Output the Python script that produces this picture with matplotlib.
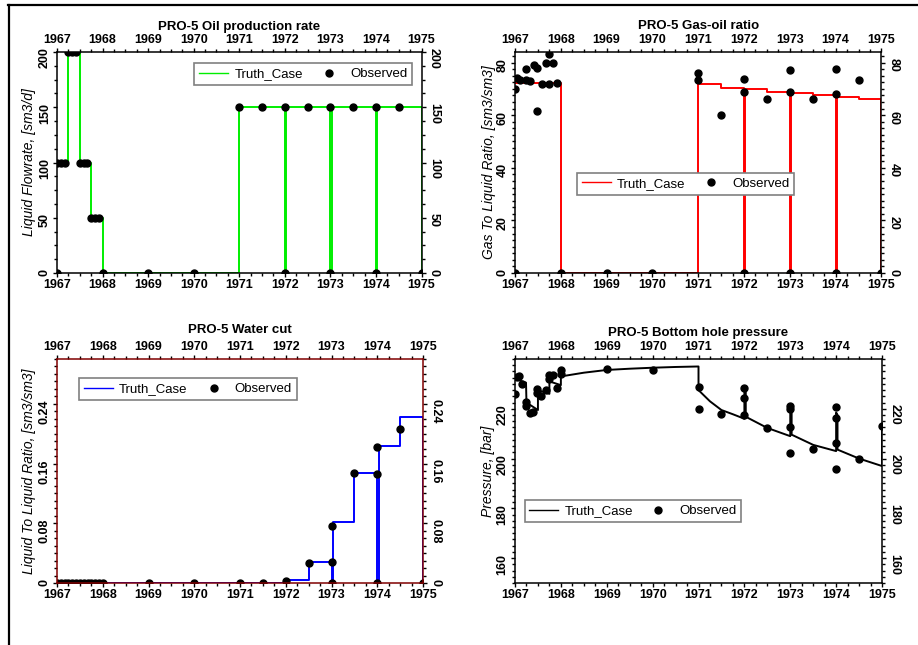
import matplotlib
matplotlib.use("Agg")
import matplotlib.pyplot as plt
from matplotlib.lines import Line2D
from matplotlib.ticker import MultipleLocator

plt.rcParams["font.family"] = ["Liberation Sans", "DejaVu Sans"]

years = [1967, 1968, 1969, 1970, 1971, 1972, 1973, 1974, 1975]

# PRO-5 oil production rate, sm3/d
oil_truth_t = [1967.0, 1967.25, 1967.5, 1967.75, 1968.0, 1971.0, 1972.0, 1972.03,
               1973.0, 1973.03, 1974.0, 1974.03, 1975.0]
oil_truth_v = [100, 200, 100, 50, 0, 150, 0, 150, 0, 150, 0, 150, 0]
oil_obs_t = [1967.0, 1967.0, 1967.083, 1967.167, 1967.25, 1967.333, 1967.417, 1967.5,
             1967.583, 1967.667, 1967.75, 1967.833, 1967.917, 1968.0, 1969.0, 1970.0,
             1971.0, 1971.5, 1972.0, 1972.0, 1972.5, 1973.0, 1973.0, 1973.5, 1974.0,
             1974.0, 1974.5, 1975.0]
oil_obs_v = [0, 100, 100, 100, 200, 200, 200, 100, 100, 100, 50, 50, 50, 0, 0, 0,
             150, 150, 150, 0, 150, 150, 0, 150, 150, 0, 150, 0]

# PRO-5 gas-oil ratio, sm3/sm3
gor_truth_t = [1967.0, 1968.0, 1971.0, 1971.5, 1972.0, 1972.03, 1972.5, 1973.0, 1973.03,
               1973.5, 1974.0, 1974.03, 1974.5, 1975.0]
gor_truth_v = [72.4, 0, 71.7, 70.4, 0, 69.8, 68.9, 0, 68.3, 67.5, 0, 66.9, 66.3, 0]
gor_obs_t = [1967.0, 1967.0, 1967.05, 1967.12, 1967.24, 1967.25, 1967.32, 1967.41,
             1967.48, 1967.48, 1967.58, 1967.67, 1967.75, 1967.75, 1967.84, 1967.92,
             1968.0, 1969.0, 1970.0, 1971.0, 1971.0, 1971.5, 1972.0, 1972.0, 1972.0,
             1972.5, 1973.0, 1973.0, 1973.0, 1973.5, 1974.0, 1974.0, 1974.0, 1974.5, 1975.0]
gor_obs_v = [0, 70.1, 74.0, 73.3, 77.5, 73.4, 73.0, 78.9, 78.0, 61.5, 72.0, 80.0,
             83.1, 72.0, 79.9, 72.3, 0, 0, 0, 76.0, 73.3, 60.0, 73.8, 68.9, 0,
             66.0, 77.2, 69.0, 0, 66.1, 77.5, 68.2, 0, 73.2, 0]

# PRO-5 water cut, sm3/sm3
wc_truth_t = [1967.0, 1972.0, 1972.5, 1973.0, 1973.03, 1973.5, 1974.0, 1974.03, 1974.5, 1975.0]
wc_truth_v = [0.0, 0.0036, 0.028, 0.0, 0.082, 0.147, 0.0, 0.184, 0.222, 0.0]
wc_obs_t = [1967.0, 1967.083, 1967.167, 1967.25, 1967.333, 1967.417, 1967.5, 1967.583,
            1967.667, 1967.75, 1967.833, 1967.917, 1968.0, 1969.0, 1970.0, 1971.0,
            1971.5, 1972.0, 1972.5, 1973.0, 1973.0, 1973.0, 1973.5, 1974.0, 1974.0,
            1974.0, 1974.5, 1975.0]
wc_obs_v = [0, 0, 0, 0, 0, 0, 0, 0, 0, 0, 0, 0, 0, 0, 0, 0, 0, 0.003, 0.027, 0.028,
            0.077, 0, 0.148, 0.182, 0.146, 0, 0.206, 0]

# PRO-5 bottom hole pressure, bar
bhp_truth_t = [1967.0, 1967.24, 1967.25, 1967.5, 1967.5, 1967.75, 1967.75, 1968.0, 1968.0,
               1968.5, 1969.0, 1969.5, 1970.0, 1970.5, 1971.0, 1971.0, 1971.25, 1971.5,
               1971.75, 1972.0, 1972.0, 1972.03, 1972.03, 1972.5, 1973.0, 1973.0, 1973.03,
               1973.03, 1973.5, 1974.0, 1974.0, 1974.03, 1974.03, 1974.5, 1975.0, 1975.0]
bhp_truth_v = [232.0, 230.5, 222.5, 219.5, 227.5, 226.0, 231.0, 229.5, 233.0,
               234.5, 235.6, 236.1, 236.5, 236.8, 237.0, 227.5, 223.0, 219.5,
               217.8, 216.0, 228.0, 227.0, 216.8, 212.3, 209.0, 221.5, 220.5,
               209.6, 205.5, 203.0, 218.5, 217.5, 203.6, 200.0, 197.0, 213.5]
bhp_obs_t = [1967.0, 1967.05, 1967.08, 1967.15, 1967.23, 1967.25, 1967.32, 1967.4,
             1967.47, 1967.49, 1967.56, 1967.67, 1967.74, 1967.75, 1967.83, 1967.91,
             1968.0, 1968.0, 1969.0, 1970.0, 1971.0, 1971.0, 1971.5, 1972.0, 1972.0,
             1972.0, 1972.5, 1973.0, 1973.0, 1973.0, 1973.0, 1973.5, 1974.0, 1974.0,
             1974.0, 1974.0, 1974.5, 1975.0]
bhp_obs_v = [226.0, 232.8, 233.2, 230.0, 222.8, 221.0, 218.2, 218.6, 227.8, 226.2,
             225.0, 227.5, 233.4, 231.8, 233.6, 228.2, 235.6, 234.0, 235.8, 235.6,
             228.9, 220.0, 217.8, 228.2, 224.2, 217.5, 212.1, 221.1, 219.8, 212.8,
             202.3, 203.7, 220.8, 216.1, 206.1, 195.8, 199.7, 213.1]


def setup(ax, ylim, yticks, ylabels, yminor, ylabel, ylabel_x, title, title_y):
    ax.set_xlim(1967, 1975)
    ax.set_ylim(*ylim)
    ax.set_xticks(years)
    ax.set_xticklabels([str(y) for y in years])
    ax.xaxis.set_minor_locator(MultipleLocator(0.25))
    ax.set_yticks(yticks)
    ax.set_yticklabels(ylabels)
    ax.yaxis.set_minor_locator(MultipleLocator(yminor))
    ax.tick_params(which="both", direction="out", top=True, right=True,
                   labeltop=True, labelright=True, width=1, labelsize=9)
    ax.tick_params(which="major", length=3, pad=1.5)
    ax.tick_params(which="minor", length=2)
    for t in ax.xaxis.get_major_ticks():
        t.label1.set_fontweight("bold")
        t.label2.set_fontweight("bold")
    for t in ax.yaxis.get_major_ticks():
        t.label1.set_fontweight("bold")
        t.label2.set_fontweight("bold")
        t.label1.set_rotation(90)
        t.label2.set_rotation(-90)
    for s in ax.spines.values():
        s.set_linewidth(1.1)
    ax.set_ylabel(ylabel, fontsize=10, fontstyle="italic")
    ax.yaxis.set_label_coords(ylabel_x, 0.5)
    ax.text(0.5, title_y, title, transform=ax.transAxes, ha="center", va="center",
            fontsize=9.5, fontweight="bold")


def add_legend(ax, color, bbox):
    handles = [Line2D([], [], color=color, lw=1),
               Line2D([], [], ls="none", marker="o", color="black", ms=5)]
    leg = ax.legend(handles, ["Truth_Case", "Observed"], ncol=2, loc="center",
                    bbox_to_anchor=bbox, mode="expand", fontsize=9.5, fancybox=False,
                    edgecolor="#808080", framealpha=1, handlelength=2.2,
                    borderpad=0.35, handletextpad=0.5, columnspacing=1.2,
                    borderaxespad=0)
    leg.get_frame().set_linewidth(1.2)


fig = plt.figure(figsize=(9.18, 6.45), dpi=100)

ax1 = fig.add_axes([0.0621, 0.5767, 0.3971, 0.3426])
ax2 = fig.add_axes([0.5610, 0.5767, 0.3992, 0.3426])
ax3 = fig.add_axes([0.0621, 0.0961, 0.3987, 0.3473])
ax4 = fig.add_axes([0.5610, 0.0961, 0.3998, 0.3473])

# oil rate
ax1.plot(oil_truth_t, oil_truth_v, drawstyle="steps-post", color="#00ee00", lw=1.4)
ax1.plot(oil_obs_t, oil_obs_v, "o", color="black", ms=5)
setup(ax1, (0, 200), [0, 50, 100, 150, 200], ["0", "50", "100", "150", "200"], 12.5,
      "Liquid Flowrate, [sm3/d]", -0.058, "PRO-5 Oil production rate", 1.114)
add_legend(ax1, "#00ee00", (0.377, 0.848, 0.598, 0.105))

# gas-oil ratio
ax2.plot(gor_truth_t, gor_truth_v, drawstyle="steps-post", color="#ff0000", lw=1.4)
ax2.plot(gor_obs_t, gor_obs_v, "o", color="black", ms=5)
setup(ax2, (0, 84), [0, 20, 40, 60, 80], ["0", "20", "40", "60", "80"], 2.5,
      "Gas To Liquid Ratio, [sm3/sm3]", -0.052, "PRO-5 Gas-oil ratio", 1.12)
add_legend(ax2, "#ff0000", (0.169, 0.350, 0.592, 0.106))

# water cut
ax3.plot(wc_truth_t, wc_truth_v, drawstyle="steps-post", color="#0000ff", lw=1.4)
ax3.plot(wc_obs_t, wc_obs_v, "o", color="black", ms=5)
setup(ax3, (0, 0.30), [0, 0.08, 0.16, 0.24], ["0", "0.08", "0.16", "0.24"], 0.01,
      "Liquid To Liquid Ratio, [sm3/sm3]", -0.058, "PRO-5 Water cut", 1.13)
for s in ax3.spines.values():
    s.set_color("#800000")
add_legend(ax3, "#0000ff", (0.060, 0.814, 0.595, 0.103))

# bottom hole pressure
ax4.plot(bhp_truth_t, bhp_truth_v, color="black", lw=1.4)
ax4.plot(bhp_obs_t, bhp_obs_v, "o", color="black", ms=5)
setup(ax4, (150, 240), [160, 180, 200, 220], ["160", "180", "200", "220"], 2.5,
      "Pressure, [bar]", -0.054, "PRO-5 Bottom hole pressure", 1.115)
add_legend(ax4, "black", (0.026, 0.269, 0.590, 0.104))

# page frame around the figure
fig.add_artist(Line2D([8 / 918, 1], [1 - 5 / 645, 1 - 5 / 645], transform=fig.transFigure,
                      color="black", lw=1.6))
fig.add_artist(Line2D([9 / 918, 9 / 918], [0, 1 - 5 / 645], transform=fig.transFigure,
                      color="black", lw=1.6))

fig.savefig("out.png", dpi=100)
